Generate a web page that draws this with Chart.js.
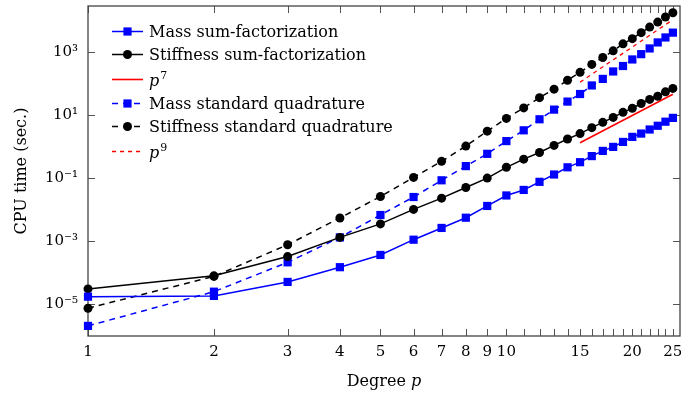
<!DOCTYPE html>
<html><head><meta charset="utf-8">
<script src="https://cdn.jsdelivr.net/npm/chart.js@4/dist/chart.umd.min.js"></script>
<style>html,body{margin:0;padding:0;background:#fff;}#wrap{width:681px;height:395px;}</style>
</head><body><div id="wrap"><canvas id="c" width="681" height="395"></canvas></div>
<script>
const degrees = [1,2,3,4,5,6,7,8,9,10,11,12,13,14,15,16,17,18,19,20,21,22,23,24,25];
const massSumFact = [1.7e-5,1.8e-5,5.0e-5,1.47e-4,3.6e-4,1.1e-3,2.6e-3,5.5e-3,0.013,0.028,0.042,0.076,0.13,0.22,0.32,0.50,0.73,0.98,1.41,2.04,2.6,3.5,4.6,6.2,8.2];
const stiffSumFact = [3.0e-5,7.8e-5,3.2e-4,1.3e-3,3.5e-3,0.0101,0.023,0.050,0.10,0.22,0.40,0.65,1.09,1.74,2.6,4.0,5.9,8.5,12.3,16.6,23.5,31.6,40,55,71];
const massStdQuad = [2.0e-6,2.45e-5,2.1e-4,1.3e-3,6.7e-3,0.025,0.085,0.24,0.59,1.5,3.3,7.4,15,27,47,88,142,245,365,590,870,1320,2050,2950,4200];
const stiffStdQuad = [7.3e-6,7.5e-5,7.6e-4,5.4e-3,0.026,0.105,0.34,1.04,3.1,7.9,17,36,67,129,230,410,680,1110,1850,2700,4200,6300,9100,13200,18000];
const refDegrees = [15,25];
const refP7 = [1.32,46];
const refP9 = [112,10800];
const seriesLabels = ['Mass sum-factorization','Stiffness sum-factorization','p⁷','Mass standard quadrature','Stiffness standard quadrature','p⁹'];
const xTickValues = [1,2,3,4,5,6,7,8,9,10,15,20,25];
const xMinorTicks = [11,12,13,14,16,17,18,19,21,22,23,24];
const yTickValues = [1e-5,1e-3,1e-1,1e1,1e3];
const yTickLabels = ['10⁻⁵','10⁻³','10⁻¹','10¹','10³'];

const FONT = 'DejaVu Serif';
const pts = (xs, ys) => xs.map((v,i)=>({x:v,y:ys[i]}));

function drawMarker(ctx, style, x, y, r, color){
  ctx.fillStyle = color;
  ctx.beginPath();
  if (style === 'rect'){ const s = Math.SQRT1_2*r; ctx.rect(x-s,y-s,2*s,2*s); }
  else { ctx.arc(x,y,r,0,Math.PI*2); }
  ctx.fill();
}
const supMap = {'⁷':'7','⁹':'9'};

const framePlugin = {
  id:'frameTicks',
  beforeDatasetsDraw(chart){
    const {ctx, chartArea:a, scales:{x,y}} = chart;
    ctx.save();
    ctx.strokeStyle='#555'; ctx.lineWidth=1;
    ctx.beginPath();
    const L = 7;
    xTickValues.concat(xMinorTicks).forEach(v=>{
      const px = Math.round(x.getPixelForValue(v))+0.5;
      ctx.moveTo(px,a.bottom); ctx.lineTo(px,a.bottom-L);
      ctx.moveTo(px,a.top); ctx.lineTo(px,a.top+L);
    });
    yTickValues.forEach(v=>{
      const py = Math.round(y.getPixelForValue(v))+0.5;
      ctx.moveTo(a.left,py); ctx.lineTo(a.left+L,py);
      ctx.moveTo(a.right,py); ctx.lineTo(a.right-L,py);
    });
    ctx.stroke();
    ctx.lineWidth=1.3; ctx.strokeStyle='#444';
    ctx.strokeRect(a.left,a.top,a.right-a.left,a.bottom-a.top);
    ctx.fillStyle='#000'; ctx.textBaseline='alphabetic';
    ctx.font = '16px "'+FONT+'"';
    const t1 = 'Degree ';
    const w1 = ctx.measureText(t1).width;
    ctx.font = 'italic 16px "'+FONT+'"';
    const w2 = ctx.measureText('p').width;
    const cx = (a.left+a.right)/2, base = 386;
    let sx = cx-(w1+w2)/2;
    ctx.font = '16px "'+FONT+'"'; ctx.textAlign='left';
    ctx.fillText(t1,sx,base);
    ctx.font = 'italic 16px "'+FONT+'"';
    ctx.fillText('p',sx+w1,base);
    ctx.restore();
  },
  afterDatasetsDraw(chart){
    const {ctx, chartArea:a} = chart;
    const rows = [31.5,54.5,79.5,103.5,126.5,151.5];
    ctx.save();
    chart.data.datasets.forEach((ds,i)=>{
      const yy = rows[i];
      const x0 = a.left+24, x1 = a.left+55;
      ctx.strokeStyle = ds.borderColor; ctx.lineWidth = Math.max(ds.borderWidth,1.5);
      ctx.setLineDash(ds.borderDash||[]);
      ctx.beginPath(); ctx.moveTo(x0,yy); ctx.lineTo(x1,yy); ctx.stroke();
      ctx.setLineDash([]);
      if (ds.pointRadius>0) drawMarker(ctx, ds.pointStyle, (x0+x1)/2, yy, ds.pointRadius, ds.pointBackgroundColor);
      ctx.fillStyle='#000'; ctx.textAlign='left'; ctx.textBaseline='alphabetic';
      const tx = a.left+61, ty = yy+5.5;
      const lab = ds.label;
      if (lab.length===2 && supMap[lab[1]]){
        ctx.font = 'italic 16px "'+FONT+'"';
        ctx.fillText('p',tx,ty+1);
        const w = ctx.measureText('p').width;
        ctx.font = '11px "'+FONT+'"';
        ctx.fillText(supMap[lab[1]],tx+w+1,ty-6);
      } else {
        ctx.font = '16px "'+FONT+'"';
        ctx.fillText(lab,tx,ty);
      }
    });
    ctx.restore();
  }
};

const common = {fill:false, clip:false, tension:0, pointBorderWidth:0};
new Chart(document.getElementById('c'), {
  type:'line',
  data:{datasets:[
    Object.assign({label:seriesLabels[0], data:pts(degrees,massSumFact), borderColor:'#0000ff', backgroundColor:'#0000ff', pointBackgroundColor:'#0000ff', borderWidth:1.5, pointStyle:'rect', pointRadius:5.8}, common),
    Object.assign({label:seriesLabels[1], data:pts(degrees,stiffSumFact), borderColor:'#000000', backgroundColor:'#000000', pointBackgroundColor:'#000000', borderWidth:1.5, pointStyle:'circle', pointRadius:4.5}, common),
    Object.assign({label:seriesLabels[2], data:pts(refDegrees,refP7), borderColor:'#ff0000', backgroundColor:'#ff0000', pointBackgroundColor:'#ff0000', borderWidth:1.6, pointRadius:0}, common),
    Object.assign({label:seriesLabels[3], data:pts(degrees,massStdQuad), borderColor:'#0000ff', backgroundColor:'#0000ff', pointBackgroundColor:'#0000ff', borderWidth:1.5, borderDash:[6,5], pointStyle:'rect', pointRadius:5.8}, common),
    Object.assign({label:seriesLabels[4], data:pts(degrees,stiffStdQuad), borderColor:'#000000', backgroundColor:'#000000', pointBackgroundColor:'#000000', borderWidth:1.5, borderDash:[6,5], pointStyle:'circle', pointRadius:4.5}, common),
    Object.assign({label:seriesLabels[5], data:pts(refDegrees,refP9), borderColor:'#ff0000', backgroundColor:'#ff0000', pointBackgroundColor:'#ff0000', borderWidth:1.3, borderDash:[4,4], pointRadius:0}, common)
  ]},
  options:{
    responsive:false, animation:false, events:[],
    layout:{autoPadding:false, padding:{left:0,right:1,top:6,bottom:0}},
    plugins:{legend:{display:false}, tooltip:{enabled:false}},
    scales:{
      x:{type:'logarithmic', min:1, max:26, position:'bottom',
        grid:{display:false, drawTicks:false}, border:{display:false},
        ticks:{autoSkip:false, maxRotation:0, minRotation:0, padding:7, color:'#000', font:{family:FONT,size:15},
          callback:(v)=>String(v)},
        afterBuildTicks:(s)=>{s.ticks = xTickValues.map(v=>({value:v}));},
        afterFit:(s)=>{s.height = 59; s.paddingLeft=0; s.paddingRight=0; s.paddingTop=0; s.paddingBottom=0;}
      },
      y:{type:'logarithmic', min:Math.pow(10,-6.02), max:Math.pow(10,4.47),
        grid:{display:false, drawTicks:false}, border:{display:false},
        ticks:{padding:10, color:'#000', font:{family:FONT,size:15},
          callback:(v)=>{const i = yTickValues.findIndex(t=>Math.abs(Math.log10(t)-Math.log10(v))<1e-6); return i>=0?yTickLabels[i]:'';}},
        afterBuildTicks:(s)=>{s.ticks = yTickValues.map(v=>({value:v}));},
        afterFit:(s)=>{s.width = 88; s.paddingLeft=0; s.paddingRight=0; s.paddingTop=0; s.paddingBottom=0;},
        title:{display:true, text:'CPU time (sec.)', color:'#000', font:{family:FONT,size:16,lineHeight:2.7}, padding:0}
      }
    }
  },
  plugins:[framePlugin]
});
</script></body></html>
